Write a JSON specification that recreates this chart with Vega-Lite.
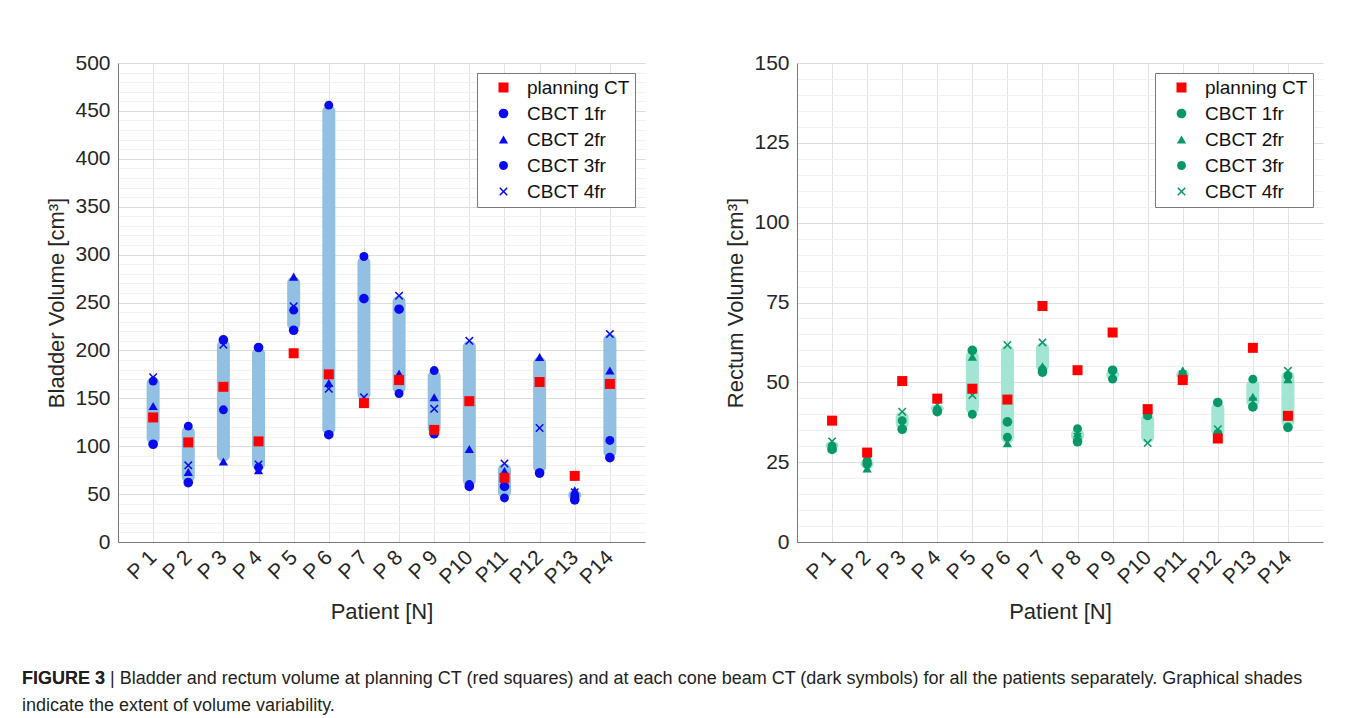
{
  "$schema": "https://vega.github.io/schema/vega-lite/v6.json",
  "padding": {"left": 21, "top": 52, "right": 20, "bottom": 10},
  "background": "white",
  "config": {
    "font": "Liberation Sans",
    "view": {"stroke": null},
    "axis": {
      "labelFont": "Liberation Sans",
      "titleFont": "Liberation Sans",
      "labelColor": "#262626",
      "titleColor": "#262626",
      "titleFontWeight": "normal",
      "labelFontSize": 21,
      "titleFontSize": 22,
      "domainColor": "#7a7a7a",
      "ticks": false,
      "labelOverlap": false
    },
    "legend": {
      "orient": "top-right",
      "offset": 10,
      "strokeColor": "#7a7a7a",
      "fillColor": "white",
      "padding": 5,
      "labelFont": "Liberation Sans",
      "labelFontSize": 19,
      "labelColor": "#111111",
      "rowPadding": 6,
      "symbolOffset": 12,
      "labelOffset": 14,
      "symbolStrokeWidth": 0,
      "symbolOpacity": 1
    }
  },
  "datasets": {
    "bladder": [
      {"patient": "P 1", "series": "CBCT 1fr", "value": 102},
      {"patient": "P 1", "series": "CBCT 2fr", "value": 142},
      {"patient": "P 1", "series": "CBCT 3fr", "value": 168},
      {"patient": "P 1", "series": "CBCT 4fr", "value": 172},
      {"patient": "P 1", "series": "planning CT", "value": 130},
      {"patient": "P 2", "series": "CBCT 1fr", "value": 62},
      {"patient": "P 2", "series": "CBCT 2fr", "value": 73},
      {"patient": "P 2", "series": "CBCT 3fr", "value": 121},
      {"patient": "P 2", "series": "CBCT 4fr", "value": 80},
      {"patient": "P 2", "series": "planning CT", "value": 104},
      {"patient": "P 3", "series": "CBCT 1fr", "value": 211},
      {"patient": "P 3", "series": "CBCT 2fr", "value": 84},
      {"patient": "P 3", "series": "CBCT 3fr", "value": 138},
      {"patient": "P 3", "series": "CBCT 4fr", "value": 206},
      {"patient": "P 3", "series": "planning CT", "value": 162},
      {"patient": "P 4", "series": "CBCT 1fr", "value": 203},
      {"patient": "P 4", "series": "CBCT 2fr", "value": 75},
      {"patient": "P 4", "series": "CBCT 3fr", "value": 78},
      {"patient": "P 4", "series": "CBCT 4fr", "value": 81},
      {"patient": "P 4", "series": "planning CT", "value": 105},
      {"patient": "P 5", "series": "CBCT 1fr", "value": 221},
      {"patient": "P 5", "series": "CBCT 2fr", "value": 277},
      {"patient": "P 5", "series": "CBCT 3fr", "value": 242},
      {"patient": "P 5", "series": "CBCT 4fr", "value": 246},
      {"patient": "P 5", "series": "planning CT", "value": 197},
      {"patient": "P 6", "series": "CBCT 1fr", "value": 112},
      {"patient": "P 6", "series": "CBCT 2fr", "value": 166},
      {"patient": "P 6", "series": "CBCT 3fr", "value": 456},
      {"patient": "P 6", "series": "CBCT 4fr", "value": 160},
      {"patient": "P 6", "series": "planning CT", "value": 175},
      {"patient": "P 7", "series": "CBCT 1fr", "value": 254},
      {"patient": "P 7", "series": "CBCT 2fr", "value": 148},
      {"patient": "P 7", "series": "CBCT 3fr", "value": 298},
      {"patient": "P 7", "series": "CBCT 4fr", "value": 151},
      {"patient": "P 7", "series": "planning CT", "value": 145},
      {"patient": "P 8", "series": "CBCT 1fr", "value": 243},
      {"patient": "P 8", "series": "CBCT 2fr", "value": 176},
      {"patient": "P 8", "series": "CBCT 3fr", "value": 155},
      {"patient": "P 8", "series": "CBCT 4fr", "value": 257},
      {"patient": "P 8", "series": "planning CT", "value": 169},
      {"patient": "P 9", "series": "CBCT 1fr", "value": 113},
      {"patient": "P 9", "series": "CBCT 2fr", "value": 151},
      {"patient": "P 9", "series": "CBCT 3fr", "value": 179},
      {"patient": "P 9", "series": "CBCT 4fr", "value": 139},
      {"patient": "P 9", "series": "planning CT", "value": 117},
      {"patient": "P10", "series": "CBCT 1fr", "value": 58},
      {"patient": "P10", "series": "CBCT 2fr", "value": 97},
      {"patient": "P10", "series": "CBCT 3fr", "value": 60},
      {"patient": "P10", "series": "CBCT 4fr", "value": 210},
      {"patient": "P10", "series": "planning CT", "value": 147},
      {"patient": "P11", "series": "CBCT 1fr", "value": 58},
      {"patient": "P11", "series": "CBCT 2fr", "value": 74},
      {"patient": "P11", "series": "CBCT 3fr", "value": 46},
      {"patient": "P11", "series": "CBCT 4fr", "value": 82},
      {"patient": "P11", "series": "planning CT", "value": 67},
      {"patient": "P12", "series": "CBCT 1fr", "value": 72},
      {"patient": "P12", "series": "CBCT 2fr", "value": 193},
      {"patient": "P12", "series": "CBCT 3fr", "value": 72},
      {"patient": "P12", "series": "CBCT 4fr", "value": 119},
      {"patient": "P12", "series": "planning CT", "value": 167},
      {"patient": "P13", "series": "CBCT 1fr", "value": 44},
      {"patient": "P13", "series": "CBCT 2fr", "value": 54},
      {"patient": "P13", "series": "CBCT 3fr", "value": 48},
      {"patient": "P13", "series": "CBCT 4fr", "value": 52},
      {"patient": "P13", "series": "planning CT", "value": 69},
      {"patient": "P14", "series": "CBCT 1fr", "value": 88},
      {"patient": "P14", "series": "CBCT 2fr", "value": 179},
      {"patient": "P14", "series": "CBCT 3fr", "value": 106},
      {"patient": "P14", "series": "CBCT 4fr", "value": 217},
      {"patient": "P14", "series": "planning CT", "value": 165}
    ],
    "rectum": [
      {"patient": "P 1", "series": "CBCT 1fr", "value": 29},
      {"patient": "P 1", "series": "CBCT 2fr", "value": 29.5},
      {"patient": "P 1", "series": "CBCT 3fr", "value": 30},
      {"patient": "P 1", "series": "CBCT 4fr", "value": 31.5},
      {"patient": "P 1", "series": "planning CT", "value": 38},
      {"patient": "P 2", "series": "CBCT 1fr", "value": 24.5},
      {"patient": "P 2", "series": "CBCT 2fr", "value": 23},
      {"patient": "P 2", "series": "CBCT 3fr", "value": 25.5},
      {"patient": "P 2", "series": "CBCT 4fr", "value": 26},
      {"patient": "P 2", "series": "planning CT", "value": 28},
      {"patient": "P 3", "series": "CBCT 1fr", "value": 35.3},
      {"patient": "P 3", "series": "CBCT 2fr", "value": 36.5},
      {"patient": "P 3", "series": "CBCT 3fr", "value": 38},
      {"patient": "P 3", "series": "CBCT 4fr", "value": 40.8},
      {"patient": "P 3", "series": "planning CT", "value": 50.4},
      {"patient": "P 4", "series": "CBCT 1fr", "value": 40.8},
      {"patient": "P 4", "series": "CBCT 2fr", "value": 42.3},
      {"patient": "P 4", "series": "CBCT 3fr", "value": 41.3},
      {"patient": "P 4", "series": "CBCT 4fr", "value": 43},
      {"patient": "P 4", "series": "planning CT", "value": 44.9},
      {"patient": "P 5", "series": "CBCT 1fr", "value": 60},
      {"patient": "P 5", "series": "CBCT 2fr", "value": 58},
      {"patient": "P 5", "series": "CBCT 3fr", "value": 40},
      {"patient": "P 5", "series": "CBCT 4fr", "value": 46},
      {"patient": "P 5", "series": "planning CT", "value": 48},
      {"patient": "P 6", "series": "CBCT 1fr", "value": 37.6},
      {"patient": "P 6", "series": "CBCT 2fr", "value": 30.9},
      {"patient": "P 6", "series": "CBCT 3fr", "value": 32.8},
      {"patient": "P 6", "series": "CBCT 4fr", "value": 61.7},
      {"patient": "P 6", "series": "planning CT", "value": 44.6},
      {"patient": "P 7", "series": "CBCT 1fr", "value": 53.2},
      {"patient": "P 7", "series": "CBCT 2fr", "value": 55},
      {"patient": "P 7", "series": "CBCT 3fr", "value": 54},
      {"patient": "P 7", "series": "CBCT 4fr", "value": 62.5},
      {"patient": "P 7", "series": "planning CT", "value": 73.9},
      {"patient": "P 8", "series": "CBCT 1fr", "value": 31.4},
      {"patient": "P 8", "series": "CBCT 2fr", "value": 34},
      {"patient": "P 8", "series": "CBCT 3fr", "value": 35.5},
      {"patient": "P 8", "series": "CBCT 4fr", "value": 33},
      {"patient": "P 8", "series": "planning CT", "value": 53.8},
      {"patient": "P 9", "series": "CBCT 1fr", "value": 53.8},
      {"patient": "P 9", "series": "CBCT 2fr", "value": 52.3},
      {"patient": "P 9", "series": "CBCT 3fr", "value": 51},
      {"patient": "P 9", "series": "CBCT 4fr", "value": 52.5},
      {"patient": "P 9", "series": "planning CT", "value": 65.6},
      {"patient": "P10", "series": "CBCT 1fr", "value": 40.3},
      {"patient": "P10", "series": "CBCT 2fr", "value": 40},
      {"patient": "P10", "series": "CBCT 3fr", "value": 39.5},
      {"patient": "P10", "series": "CBCT 4fr", "value": 31},
      {"patient": "P10", "series": "planning CT", "value": 41.6},
      {"patient": "P11", "series": "CBCT 1fr", "value": 51},
      {"patient": "P11", "series": "CBCT 2fr", "value": 53.8},
      {"patient": "P11", "series": "CBCT 3fr", "value": 52},
      {"patient": "P11", "series": "CBCT 4fr", "value": 52.5},
      {"patient": "P11", "series": "planning CT", "value": 50.7},
      {"patient": "P12", "series": "CBCT 1fr", "value": 43.7},
      {"patient": "P12", "series": "CBCT 2fr", "value": 33},
      {"patient": "P12", "series": "CBCT 3fr", "value": 34},
      {"patient": "P12", "series": "CBCT 4fr", "value": 35.3},
      {"patient": "P12", "series": "planning CT", "value": 32.4},
      {"patient": "P13", "series": "CBCT 1fr", "value": 42.3},
      {"patient": "P13", "series": "CBCT 2fr", "value": 45.5},
      {"patient": "P13", "series": "CBCT 3fr", "value": 51},
      {"patient": "P13", "series": "CBCT 4fr", "value": 44},
      {"patient": "P13", "series": "planning CT", "value": 60.8},
      {"patient": "P14", "series": "CBCT 1fr", "value": 35.9},
      {"patient": "P14", "series": "CBCT 2fr", "value": 51},
      {"patient": "P14", "series": "CBCT 3fr", "value": 52},
      {"patient": "P14", "series": "CBCT 4fr", "value": 53.6},
      {"patient": "P14", "series": "planning CT", "value": 39.5}
    ]
  },
  "title": {
    "text": "FIGURE 3",
    "orient": "bottom",
    "anchor": "start",
    "frame": "bounds",
    "font": "Liberation Sans",
    "fontSize": 18,
    "fontWeight": "bold",
    "color": "#231f20",
    "offset": 48,
    "dx": -24,
    "subtitle": [
      "FIGURE 3 | Bladder and rectum volume at planning CT (red squares) and at each cone beam CT (dark symbols) for all the patients separately. Graphical shades",
      "indicate the extent of volume variability."
    ],
    "subtitleFont": "Liberation Sans",
    "subtitleFontSize": 18,
    "subtitleColor": "#231f20",
    "subtitlePadding": -18,
    "subtitleLineHeight": 27
  },
  "spacing": 79,
  "hconcat": [
    {
      "width": 527,
      "height": 479,
      "data": {"name": "bladder"},
      "resolve": {"axis": {"y": "independent"}},
      "layer": [
        {
          "transform": [{"filter": "datum.series !== 'planning CT'"}],
          "mark": {"type": "bar", "width": 13, "cornerRadius": 6, "color": "#92c0e3", "opacity": 1},
          "encoding": {
            "x": {"field": "patient", "type": "ordinal", "scale": {"type": "point", "padding": 1, "domain": ["P 1","P 2","P 3","P 4","P 5","P 6","P 7","P 8","P 9","P10","P11","P12","P13","P14"]},
                  "axis": {"title": "Patient [N]", "labelAngle": -45, "labelAlign": "right", "labelBaseline": "middle", "labelPadding": 12, "titlePadding": 14, "grid": true, "gridColor": "#e2e2e2"}},
            "y": {"aggregate": "min", "field": "value", "type": "quantitative", "scale": {"domain": [0, 500], "nice": false},
                  "axis": {"title": "Bladder Volume [cm³]", "orient": "left", "values": [0,50,100,150,200,250,300,350,400,450,500], "labelPadding": 8, "titlePadding": 6, "grid": true, "gridColor": "#dcdcdc"}},
            "y2": {"aggregate": "max", "field": "value"}
          }
        },
        {
          "mark": {"type": "point", "filled": true, "opacity": 1},
          "encoding": {
            "x": {"field": "patient", "type": "ordinal"},
            "y": {"field": "value", "type": "quantitative",
                  "axis": {"title": null, "orient": "right", "values": [10,20,30,40,60,70,80,90,110,120,130,140,160,170,180,190,210,220,230,240,260,270,280,290,310,320,330,340,360,370,380,390,410,420,430,440,460,470,480,490], "labels": false, "domain": false, "ticks": false, "grid": true, "gridColor": "#f1f1f1"}},
            "color": {"field": "series", "type": "nominal", "scale": {"domain": ["planning CT","CBCT 1fr","CBCT 2fr","CBCT 3fr","CBCT 4fr"], "range": ["#ff0000","#0a0aee","#0a0aee","#0a0aee","#0a0aee"]}, "legend": {"title": null}},
            "shape": {"field": "series", "type": "nominal", "scale": {"domain": ["planning CT","CBCT 1fr","CBCT 2fr","CBCT 3fr","CBCT 4fr"], "range": ["square","circle","triangle-up","circle","M-1,-0.75L-0.75,-1L0,-0.25L0.75,-1L1,-0.75L0.25,0L1,0.75L0.75,1L0,0.25L-0.75,1L-1,0.75L-0.25,0Z"]}, "legend": {"title": null}},
            "size": {"field": "series", "type": "nominal", "scale": {"domain": ["planning CT","CBCT 1fr","CBCT 2fr","CBCT 3fr","CBCT 4fr"], "range": [100,72,80,28,70]}, "legend": {"title": null}}
          }
        }
      ]
    },
    {
      "width": 526,
      "height": 479,
      "data": {"name": "rectum"},
      "resolve": {"axis": {"y": "independent"}},
      "layer": [
        {
          "transform": [{"filter": "datum.series !== 'planning CT'"}],
          "mark": {"type": "bar", "width": 13, "cornerRadius": 6, "color": "#a2e5d3", "opacity": 1},
          "encoding": {
            "x": {"field": "patient", "type": "ordinal", "scale": {"type": "point", "padding": 1, "domain": ["P 1","P 2","P 3","P 4","P 5","P 6","P 7","P 8","P 9","P10","P11","P12","P13","P14"]},
                  "axis": {"title": "Patient [N]", "labelAngle": -45, "labelAlign": "right", "labelBaseline": "middle", "labelPadding": 12, "titlePadding": 14, "grid": true, "gridColor": "#e2e2e2"}},
            "y": {"aggregate": "min", "field": "value", "type": "quantitative", "scale": {"domain": [0, 150], "nice": false},
                  "axis": {"title": "Rectum Volume [cm³]", "orient": "left", "values": [0,25,50,75,100,125,150], "labelPadding": 8, "titlePadding": 6, "grid": true, "gridColor": "#dcdcdc"}},
            "y2": {"aggregate": "max", "field": "value"}
          }
        },
        {
          "mark": {"type": "point", "filled": true, "opacity": 1},
          "encoding": {
            "x": {"field": "patient", "type": "ordinal"},
            "y": {"field": "value", "type": "quantitative",
                  "axis": {"title": null, "orient": "right", "values": [5,10,15,20,30,35,40,45,55,60,65,70,80,85,90,95,105,110,115,120,130,135,140,145], "labels": false, "domain": false, "ticks": false, "grid": true, "gridColor": "#f1f1f1"}},
            "color": {"field": "series", "type": "nominal", "scale": {"domain": ["planning CT","CBCT 1fr","CBCT 2fr","CBCT 3fr","CBCT 4fr"], "range": ["#ff0000","#079865","#079865","#079865","#079865"]}, "legend": {"title": null}},
            "shape": {"field": "series", "type": "nominal", "scale": {"domain": ["planning CT","CBCT 1fr","CBCT 2fr","CBCT 3fr","CBCT 4fr"], "range": ["square","circle","triangle-up","circle","M-1,-0.75L-0.75,-1L0,-0.25L0.75,-1L1,-0.75L0.25,0L1,0.75L0.75,1L0,0.25L-0.75,1L-1,0.75L-0.25,0Z"]}, "legend": {"title": null}},
            "size": {"field": "series", "type": "nominal", "scale": {"domain": ["planning CT","CBCT 1fr","CBCT 2fr","CBCT 3fr","CBCT 4fr"], "range": [100,72,80,28,70]}, "legend": {"title": null}}
          }
        }
      ]
    }
  ],
  "resolve": {
    "scale": {"color": "independent", "shape": "independent", "size": "independent"},
    "legend": {"color": "independent", "shape": "independent", "size": "independent"}
  }
}
